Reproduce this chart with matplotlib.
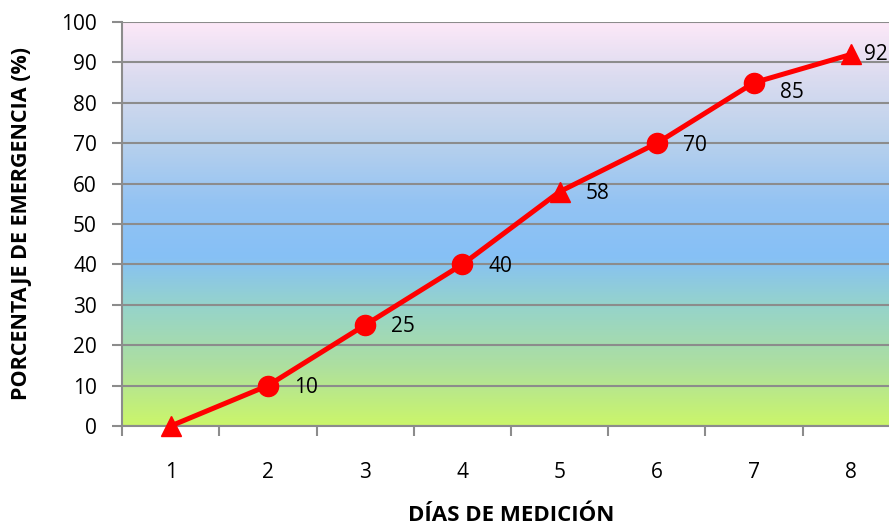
import matplotlib.pyplot as plt
import numpy as np
from matplotlib.colors import LinearSegmentedColormap

plt.rcParams["font.family"] = ["Open Sans", "DejaVu Sans"]

dias = [1, 2, 3, 4, 5, 6, 7, 8]
emergencia = [0, 10, 25, 40, 58, 70, 85, 92]
marcadores = ["^", "o", "o", "o", "^", "o", "o", "^"]
y_ticks = [0, 10, 20, 30, 40, 50, 60, 70, 80, 90, 100]
# label offsets in pixels (dx, dy) from each point
desplaz = [None, (26, -2), (26, -2), (26, -2), (26, -2), (26, -2), (26, -10), (13, 0)]

# background gradient, bottom (green) to top (pink)
fondo = LinearSegmentedColormap.from_list(
    "fondo",
    [
        (0.00, "#cbf66a"),
        (0.15, "#addfa0"),
        (0.30, "#95d3cc"),
        (0.42, "#86c0f6"),
        (0.55, "#93c3f3"),
        (0.72, "#bcd2ec"),
        (0.87, "#dcdcf0"),
        (1.00, "#fde8f8"),
    ],
)

fig = plt.figure(figsize=(8.89, 5.30), dpi=100)
ax = fig.add_axes([122 / 889, 104 / 530, 778 / 889, 404 / 530])

grad = np.linspace(0, 1, 256).reshape(-1, 1)
ax.imshow(grad, cmap=fondo, origin="lower", aspect="auto",
          extent=[0.5, 8.5, 0, 100], zorder=0)

for yv in y_ticks:
    ax.axhline(yv, color="#8c8c8c", linewidth=1.5, zorder=1)

ax.plot(dias, emergencia, color="#ff0000", linewidth=3.6, zorder=3, clip_on=False)
for x, y, m, d in zip(dias, emergencia, marcadores, desplaz):
    ax.plot(x, y, marker=m, color="#ff0000", markersize=14.5 if m == "o" else 15,
            zorder=4, clip_on=False)
    if d is not None:
        ax.annotate(str(y), (x, y), xytext=d, textcoords="offset pixels",
                    ha="left", va="center", fontsize=15, zorder=5,
                    annotation_clip=False)

ax.set_xlim(0.5, 8.5)
ax.set_ylim(0, 100)
ax.set_yticks(y_ticks)
ax.set_xticks(np.arange(0.5, 9.0, 1.0))
ax.set_xticklabels([])
ax.set_xticks(dias, minor=True)
ax.set_xticklabels([str(d) for d in dias], minor=True)
ax.tick_params(axis="x", which="major", length=7, width=1.5, color="#8c8c8c")
ax.tick_params(axis="x", which="minor", length=0, pad=26, labelsize=15)
ax.tick_params(axis="y", length=7, width=1.5, color="#8c8c8c", pad=11, labelsize=15)

for side in ["top", "right"]:
    ax.spines[side].set_visible(False)
for side in ["left", "bottom"]:
    ax.spines[side].set_color("#8c8c8c")
    ax.spines[side].set_linewidth(1.5)

ax.set_xlabel("DÍAS DE MEDICIÓN", fontsize=16, fontweight="bold", labelpad=16)
ax.set_ylabel("PORCENTAJE DE EMERGENCIA (%)", fontsize=15.5, fontweight="bold")
ax.yaxis.set_label_coords(-90 / 778, 0.5)

fig.savefig("out.png", dpi=100)
